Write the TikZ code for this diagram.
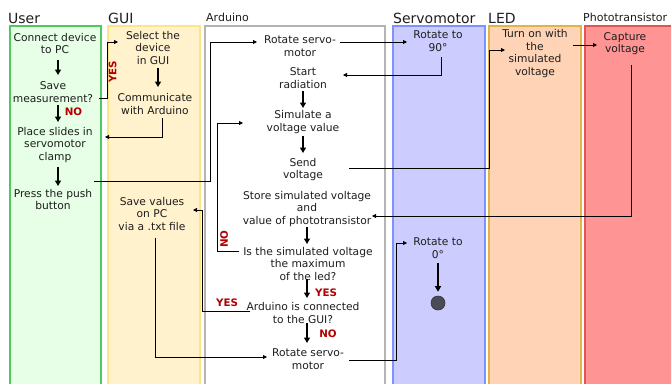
\documentclass[tikz,border=0pt]{standalone}
\usepackage{fontspec}
\setmainfont{DejaVu Sans}
\usetikzlibrary{calc,arrows.meta}
\definecolor{userfill}{RGB}{230,255,230}
\definecolor{userdraw}{RGB}{80,200,95}
\definecolor{guifill}{RGB}{255,242,204}
\definecolor{guidraw}{RGB}{255,228,130}
\definecolor{ardraw}{RGB}{180,180,180}
\definecolor{servofill}{RGB}{204,204,255}
\definecolor{servodraw}{RGB}{125,145,255}
\definecolor{ledfill}{RGB}{255,212,182}
\definecolor{leddraw}{RGB}{225,180,70}
\definecolor{photofill}{RGB}{255,148,148}
\definecolor{photodraw}{RGB}{225,85,85}
\definecolor{txtc}{RGB}{30,30,30}
\definecolor{redc}{RGB}{178,0,0}
\definecolor{endc}{RGB}{75,75,88}
\begin{document}
\begin{tikzpicture}[x=1pt,y=-1pt,
  txt/.style={align=center, font=\fontsize{10.7}{12.6}\selectfont, text=txtc, inner sep=0pt},
  flow/.style={-{Triangle[length=5.5pt,width=6pt]}, line width=1.3pt},
  link/.style={-{Triangle[length=4pt,width=4pt]}, line width=0.8pt},
  lbl/.style={font=\bfseries\fontsize{10.3}{11}\selectfont, text=redc, inner sep=0pt},
  lane/.style={line width=1.3pt},
  bigtitle/.style={anchor=base west, font=\fontsize{14}{15}\selectfont, inner sep=0pt, text=txtc},
  smalltitle/.style={anchor=base west, font=\fontsize{11}{12}\selectfont, inner sep=0pt, text=txtc},
  endpt/.style={circle, draw=black!80, fill=endc, line width=0.6pt, minimum size=14pt, inner sep=0pt}]
\useasboundingbox (0,0) rectangle (671,383);
\clip (0,0) rectangle (671,383);
\fill[white] (0,0) rectangle (671,383);
% lanes
\draw[lane, draw=userdraw, fill=userfill] (10,26) rectangle (101,395);
\draw[lane, draw=guidraw, fill=guifill] (108,26) rectangle (200,395);
\draw[lane, draw=ardraw, fill=white] (205,26) rectangle (385,395);
\draw[lane, draw=servodraw, fill=servofill] (393,26) rectangle (485,395);
\draw[lane, draw=leddraw, fill=ledfill] (489,26) rectangle (581,395);
\draw[lane, draw=photodraw, fill=photofill] (585,26) rectangle (690,395);
% titles
\node[bigtitle] (tuser) at (8,23) {User};
\node[bigtitle] (tgui) at (108,23) {GUI};
\node[smalltitle] (tard) at (206,21.5) {Arduino};
\node[bigtitle] (tservo) at (393,23) {Servomotor};
\node[bigtitle] (tled) at (488,23) {LED};
\node[smalltitle] (tphoto) at (583,21) {Phototransistor};
% user
\node[txt] (connect) at (55,43.5) {Connect device\\to PC};
\node[txt] (save) at (53,92) {Save\\measurement?};
\node[txt] (place) at (55,145) {Place slides in\\servomotor\\clamp};
\node[txt] (press) at (53,199.5) {Press the push\\button};
% gui
\node[txt] (select) at (153,48) {Select the\\device\\in GUI};
\node[txt] (comm) at (155,104) {Communicate\\with Arduino};
\node[txt] (savepc) at (152,214) {Save values\\on PC\\via a .txt file};
% arduino
\node[txt] (rot1) at (300,46) {Rotate servo-\\motor};
\node[txt] (start) at (303,78) {Start\\radiation};
\node[txt] (sim) at (303,122) {Simulate a\\voltage value};
\node[txt] (send) at (303,169.5) {Send\\voltage};
\node[txt] (store) at (307,209) {Store simulated voltage\\and\\value of phototransistor};
\node[txt] (max) at (308,264) {Is the simulated voltage\\the maximum\\of the led?};
\node[txt] (conn) at (303,313) {Arduino is connected\\to the GUI?};
\node[txt] (rot2) at (308,359) {Rotate servo-\\motor};
% servo
\node[txt] (r90) at (438,41) {Rotate to\\90°};
\node[txt] (r0) at (438,248) {Rotate to\\0°};
\node[endpt] (stop) at (438,303) {};
% led
\node[txt] (led) at (535,53.5) {Turn on with\\the\\simulated\\voltage};
% photo
\node[txt] (cap) at (625,43.5) {Capture\\voltage};
% vertical flow arrows
\draw[flow] ($(connect)+(3,16.5)$) -- ($(save)+(5,-17)$);
\draw[flow] ($(save)+(5,13)$) -- ($(place)+(3,-23)$);
\node[lbl] (no1) at (73.5,112) {NO};
\draw[flow] ($(place)+(3,22)$) -- ($(press)+(5,-13.5)$);
\draw[flow] ($(select)+(5,20)$) -- ($(comm)+(3,-17)$);
\draw[flow] ($(start)+(0,13)$) -- ($(sim)+(0,-14)$);
\draw[flow] ($(sim)+(0,14)$) -- ($(send)+(0,-16.5)$);
\draw[flow] ($(store)+(0,18)$) -- ($(max)+(-1,-20)$);
\draw[flow] ($(max)+(-1,15)$) -- ($(conn)+(4,-15)$);
\node[lbl] (yes2) at (326,293) {YES};
\draw[flow] ($(conn)+(4,10)$) -- ($(rot2)+(-1,-16)$);
\node[lbl] (no3) at (328,334) {NO};
\draw[flow] ($(r0)+(0,15)$) -- ($(stop.north)+(0,-4)$);
% connectors
\draw[link] ($(save)+(46,6)$) -- ++(8,0) |- ($(select)+(-35,-6)$);
\node[lbl, rotate=90] (yes1) at (112.5,72) {YES};
\draw[link] ($(comm)+(7,14)$) |- ($(place)+(50,-8)$);
\draw[link] ($(press)+(41,-18.5)$) -- ++(116,0) |- ($(rot1)+(-43,-4)$);
\draw[link] ($(rot1)+(40,-4)$) -- ($(r90)+(-31,1)$);
\draw[link] ($(r90)+(3,16)$) |- ($(start)+(40,-3)$);
\draw[link] ($(send)+(46,-1.5)$) -- ++(140,0) |- ($(led)+(-30,-3.5)$);
\draw[link] ($(led)+(38,-8.5)$) -- ($(cap)+(-28,1.5)$);
\draw[link] ($(cap)+(6,21.5)$) |- ($(store)+(65,7)$);
\draw[link] ($(max)+(-69,-13)$) -- ++(-22,0) |- ($(sim)+(-60,1)$);
\node[lbl, rotate=90] (no2) at (224,239) {NO};
\draw[link] ($(conn)+(-53,-2)$) -- ++(-48,0) |- ($(savepc)+(41,-4)$);
\node[lbl] (yes3) at (227,303) {YES};
\draw[link] ($(savepc)+(3,24)$) |- ($(rot2)+(-41,-2)$);
\draw[link] ($(rot2)+(41,1)$) -- ++(47,0) |- ($(r0)+(-31,-5)$);
\end{tikzpicture}
\end{document}
